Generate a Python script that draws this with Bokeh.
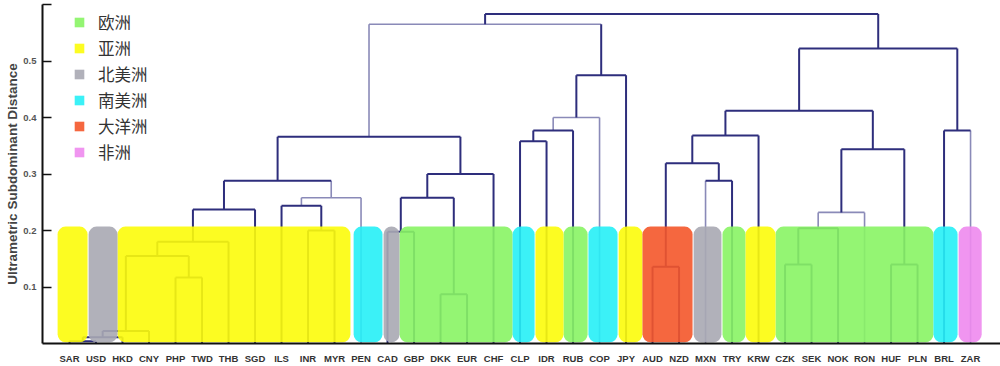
import numpy as np
from bokeh.plotting import figure
from bokeh.models import Range1d, Legend, LegendItem, FixedTicker, Title, ColumnDataSource
from bokeh.embed import file_html
from bokeh.resources import INLINE

# ---------------- data ----------------
currencies = ["SAR", "USD", "HKD", "CNY", "PHP", "TWD", "THB", "SGD", "ILS", "INR",
              "MYR", "PEN", "CAD", "GBP", "DKK", "EUR", "CHF", "CLP", "IDR", "RUB",
              "COP", "JPY", "AUD", "NZD", "MXN", "TRY", "KRW", "CZK", "SEK", "NOK",
              "RON", "HUF", "PLN", "BRL", "ZAR"]

# merges: node ids 0..34 are leaves, merge k creates node 35+k
merge_left = [0, 35, 36, 4, 37, 39, 40, 9, 8, 43, 41, 12, 14, 46, 48, 45, 17, 51, 52, 53,
              50, 22, 24, 56, 58, 27, 60, 61, 31, 62, 59, 33, 65, 55]
merge_right = [1, 2, 3, 5, 38, 6, 7, 10, 42, 11, 44, 13, 15, 47, 16, 49, 18, 19, 20, 21,
               54, 23, 25, 57, 26, 28, 29, 30, 32, 63, 64, 34, 66, 67]
merge_height = [0.004, 0.011, 0.022, 0.117, 0.155, 0.180, 0.237, 0.200, 0.244, 0.258,
                0.288, 0.198, 0.087, 0.258, 0.300, 0.366, 0.358, 0.377, 0.400, 0.475,
                0.565, 0.136, 0.288, 0.319, 0.368, 0.140, 0.204, 0.232, 0.140, 0.344,
                0.412, 0.377, 0.522, 0.583]
# arm styles per merge: left arm / top bar / right arm  (d = dark, l = light)
merge_style = ["ddd", "ddd", "ddd", "ddd", "ddd", "ddd", "ddd", "ddd", "ddd", "lll",
               "ddl", "ddd", "ddd", "ddd", "ddd", "ddd", "ddd", "ddd", "lll", "ddd",
               "lld", "ddd", "ldd", "ddd", "ddd", "ddd", "ddd", "lll", "ddd", "ddd",
               "ddd", "ddl", "ddd", "ddd"]

regions = ["欧洲", "亚洲", "北美洲", "南美洲", "大洋洲", "非洲"]
region_colors = ["#88f464", "#fcfc0a", "#a8a8b2", "#26eff6", "#f4562a", "#ee8aee"]

# coloured background blocks (leaf-index units) and their region
box_left = [-0.45, 0.72, 1.81, 10.72, 11.85, 12.45, 16.72, 17.58, 18.64, 19.58, 20.72,
            21.62, 23.55, 24.64, 25.51, 26.64, 32.60, 33.55]
box_right = [0.68, 1.81, 10.60, 11.81, 12.45, 16.72, 17.55, 18.64, 19.55, 20.68, 21.62,
             23.51, 24.60, 25.51, 26.64, 32.60, 33.51, 34.42]
box_region = [1, 2, 1, 3, 2, 0, 3, 1, 0, 3, 1, 4, 2, 0, 1, 0, 3, 5]

y_ticks = [0.1, 0.2, 0.3, 0.4, 0.5, 0.6]
y_tick_labels = ["0.1", "0.2", "0.3", "0.4", "0.5", ""]

# ---------------- dendrogram geometry from the tree ----------------
n = len(currencies)
node_x = list(range(n)) + [0.0] * len(merge_height)
node_h = [0.0] * n + list(merge_height)
for k, (a, b) in enumerate(zip(merge_left, merge_right)):
    node_x[n + k] = (node_x[a] + node_x[b]) / 2.0

segs = {"d": {"x0": [], "y0": [], "x1": [], "y1": []},
        "l": {"x0": [], "y0": [], "x1": [], "y1": []}}


def add(style, x0, y0, x1, y1):
    s = segs[style]
    s["x0"].append(x0); s["y0"].append(y0); s["x1"].append(x1); s["y1"].append(y1)


for k, (a, b) in enumerate(zip(merge_left, merge_right)):
    h = merge_height[k]
    st = merge_style[k]
    xa, xb = node_x[a], node_x[b]
    add(st[0], xa, node_h[a], xa, h)
    add(st[1], xa, h, xb, h)
    add(st[2], xb, node_h[b], xb, h)

# ---------------- figure ----------------
p = figure(width=1000, height=366, output_backend="svg", toolbar_location=None,
           x_range=Range1d(-1.02, 35.13), y_range=Range1d(0, 0.6),
           min_border_left=42, min_border_right=0, min_border_top=4, min_border_bottom=19)
p.outline_line_color = None
p.grid.visible = False
p.background_fill_color = "white"

p.segment(x0="x0", y0="y0", x1="x1", y1="y1", source=ColumnDataSource(segs["l"]),
          line_color="#8a8ab8", line_width=1.6)
p.segment(x0="x0", y0="y0", x1="x1", y1="y1", source=ColumnDataSource(segs["d"]),
          line_color="#2e2e7c", line_width=2)

items = []
for r, name in enumerate(regions):
    idx = [i for i, g in enumerate(box_region) if g == r]
    src = ColumnDataSource(dict(left=[box_left[i] for i in idx],
                                right=[box_right[i] for i in idx]))
    rr = p.quad(left="left", right="right", bottom=0.002, top=0.207, source=src,
                fill_color=region_colors[r], fill_alpha=0.9, line_color=None,
                border_radius=8)
    items.append(LegendItem(label=name, renderers=[rr]))

legend = Legend(items=items, location=(31, 179), glyph_width=12, glyph_height=12,
                label_standoff=13, spacing=2, padding=0, margin=0, label_height=20,
                label_text_font="Noto Sans CJK SC", label_text_font_size="16.5px",
                label_text_color="#333333", border_line_color=None,
                background_fill_alpha=0)
p.add_layout(legend, "center")

# axes
xa = p.xaxis[0]
xa.ticker = FixedTicker(ticks=list(range(n)))
xa.major_label_overrides = {i: c for i, c in enumerate(currencies)}
xa.major_tick_line_color = None
xa.minor_tick_line_color = None
xa.axis_line_width = 2
xa.axis_line_color = "#111111"
xa.major_label_standoff = 3
xa.major_label_text_font = "Liberation Sans"
xa.major_label_text_font_style = "bold"
xa.major_label_text_font_size = "9.5px"
xa.major_label_text_color = "#333333"

ya = p.yaxis[0]
ya.ticker = FixedTicker(ticks=y_ticks)
ya.major_label_overrides = dict(zip(y_ticks, y_tick_labels))
ya.major_tick_in = 9
ya.major_tick_out = 0
ya.major_tick_line_width = 1.5
ya.major_tick_line_color = "#111111"
ya.minor_tick_line_color = None
ya.axis_line_width = 2
ya.axis_line_color = "#111111"
ya.major_label_standoff = 6
ya.major_label_text_font = "Liberation Sans"
ya.major_label_text_font_style = "bold"
ya.major_label_text_font_size = "9.5px"
ya.major_label_text_color = "#555555"

title = Title(text="Ultrametric Subdominant Distance", align="center", offset=-21,
              standoff=2, text_font="Liberation Sans", text_font_style="bold",
              text_font_size="13.5px", text_color="#444444")
p.add_layout(title, "left")

open("out.html", "w").write(file_html(p, INLINE))
